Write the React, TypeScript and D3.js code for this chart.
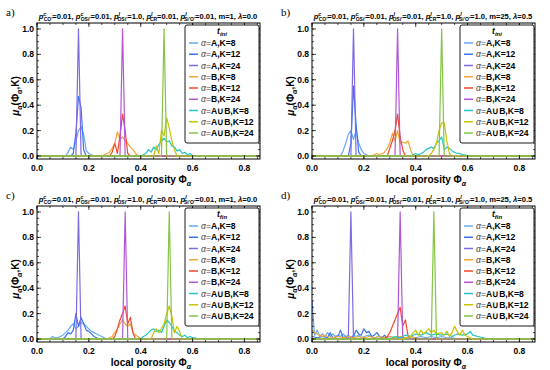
import React from 'react';
import * as d3 from 'd3';

type Pt = [number, number];

const seriesNames = ['A,K=8', 'A,K=12', 'A,K=24', 'B,K=8', 'B,K=12', 'B,K=24', 'A∪B,K=8', 'A∪B,K=12', 'A∪B,K=24'];
const seriesColors = ['#6aa8f5', '#3b74f0', '#7d6be6', '#f5a535', '#f2472c', '#b455d6', '#22c4c4', '#c9c300', '#84c446'];

const xTicks = [0, 0.2, 0.4, 0.6, 0.8];
const yTicks = [0, 0.2, 0.4, 0.6, 0.8, 1.0];

// title parameters: [superscript, subscript, value]
const paramsM1 = [['c', "CO'", '0.01'], ['c', "OSi'", '0.01'], ['l', "OSi'", '1.0'], ['l', 'CR', '0.01'], ['l', "Si'O'", '0.01']];
const tailM1 = 'm=1, λ=0.0';
const paramsM25 = [['c', "CO'", '0.01'], ['c', "OSi'", '0.01'], ['l', "OSi'", '0.01'], ['l', 'CR', '1.0'], ['l', "Si'O'", '1.0']];
const tailM25 = 'm=25, λ=0.5';

// a) t_ini, m=1
const iniM1: Pt[][] = [
  [[0, 0], [0.11, 0], [0.12, 0.03], [0.13, 0.07], [0.14, 0.05], [0.15, 0.12], [0.16, 0.2], [0.17, 0.23], [0.18, 0.17], [0.19, 0.04], [0.2, 0.02], [0.21, 0.01], [0.22, 0], [0.86, 0]],
  [[0, 0], [0.13, 0], [0.14, 0.02], [0.15, 0.18], [0.16, 0.47], [0.17, 0.38], [0.18, 0.05], [0.19, 0], [0.86, 0]],
  [[0, 0], [0.15, 0], [0.16, 1], [0.17, 0], [0.86, 0]],
  [[0, 0], [0.25, 0], [0.26, 0.01], [0.27, 0.02], [0.28, 0.03], [0.29, 0.06], [0.3, 0.1], [0.31, 0.19], [0.32, 0.13], [0.33, 0.15], [0.34, 0.12], [0.35, 0.1], [0.36, 0.07], [0.37, 0.05], [0.38, 0.02], [0.39, 0], [0.86, 0]],
  [[0, 0], [0.28, 0], [0.29, 0.03], [0.3, 0.1], [0.31, 0.02], [0.32, 0.16], [0.33, 0.33], [0.34, 0.2], [0.35, 0.02], [0.36, 0], [0.86, 0]],
  [[0, 0], [0.32, 0], [0.33, 1], [0.34, 0], [0.86, 0]],
  [[0, 0], [0.4, 0], [0.41, 0.01], [0.42, 0.02], [0.43, 0.05], [0.44, 0.03], [0.45, 0.07], [0.46, 0.05], [0.47, 0.09], [0.48, 0.12], [0.49, 0.14], [0.5, 0.11], [0.51, 0.12], [0.52, 0.08], [0.53, 0.07], [0.54, 0.04], [0.55, 0.05], [0.56, 0.02], [0.57, 0.03], [0.58, 0.01], [0.59, 0.02], [0.6, 0], [0.86, 0]],
  [[0, 0], [0.45, 0], [0.46, 0.08], [0.47, 0.02], [0.48, 0.2], [0.49, 0.16], [0.5, 0.3], [0.51, 0.22], [0.52, 0.12], [0.53, 0.05], [0.54, 0], [0.86, 0]],
  [[0, 0], [0.48, 0], [0.49, 1], [0.5, 0], [0.86, 0]],
];

// b) t_ini, m=25
const iniM25: Pt[][] = [
  [[0, 0], [0.11, 0], [0.12, 0.04], [0.13, 0.1], [0.14, 0.17], [0.15, 0.2], [0.16, 0.13], [0.17, 0.2], [0.18, 0.1], [0.19, 0.05], [0.2, 0.02], [0.21, 0.01], [0.22, 0], [0.86, 0]],
  [[0, 0], [0.14, 0], [0.15, 0.1], [0.16, 0.55], [0.17, 0.25], [0.18, 0.03], [0.19, 0], [0.86, 0]],
  [[0, 0], [0.15, 0], [0.16, 1], [0.17, 0], [0.86, 0]],
  [[0, 0], [0.23, 0], [0.24, 0.01], [0.25, 0.02], [0.26, 0.01], [0.27, 0.02], [0.28, 0.03], [0.29, 0.06], [0.3, 0.1], [0.31, 0.18], [0.32, 0.12], [0.33, 0.2], [0.34, 0.1], [0.35, 0.11], [0.36, 0.1], [0.37, 0.12], [0.38, 0.05], [0.39, 0], [0.86, 0]],
  [[0, 0], [0.29, 0], [0.3, 0.06], [0.31, 0.12], [0.32, 0.2], [0.33, 0.33], [0.34, 0.15], [0.35, 0.05], [0.36, 0], [0.86, 0]],
  [[0, 0], [0.32, 0], [0.33, 1], [0.34, 0], [0.86, 0]],
  [[0, 0], [0.38, 0], [0.39, 0.01], [0.4, 0.02], [0.41, 0.01], [0.42, 0.02], [0.43, 0.03], [0.44, 0.05], [0.45, 0.06], [0.46, 0.07], [0.47, 0.06], [0.48, 0.1], [0.49, 0.12], [0.5, 0.15], [0.51, 0.05], [0.52, 0.07], [0.53, 0.06], [0.54, 0.04], [0.55, 0.03], [0.56, 0.02], [0.57, 0.02], [0.58, 0.01], [0.59, 0.01], [0.6, 0], [0.86, 0]],
  [[0, 0], [0.45, 0], [0.46, 0.02], [0.47, 0.05], [0.48, 0.1], [0.49, 0.2], [0.5, 0.26], [0.51, 0.26], [0.52, 0.12], [0.53, 0.02], [0.54, 0], [0.86, 0]],
  [[0, 0], [0.49, 0], [0.5, 1], [0.51, 0], [0.86, 0]],
];

// c) t_fin, m=1
const finM1: Pt[][] = [
  [[0, 0], [0.05, 0], [0.06, 0.02], [0.07, 0.01], [0.08, 0.01], [0.09, 0.02], [0.1, 0.03], [0.11, 0.05], [0.12, 0.07], [0.13, 0.1], [0.14, 0.12], [0.15, 0.08], [0.16, 0.1], [0.17, 0.13], [0.18, 0.12], [0.19, 0.1], [0.2, 0.08], [0.21, 0.06], [0.22, 0.05], [0.23, 0.04], [0.24, 0.03], [0.25, 0.02], [0.26, 0.01], [0.27, 0], [0.86, 0]],
  [[0, 0], [0.1, 0], [0.11, 0.02], [0.12, 0.05], [0.13, 0.04], [0.14, 0.07], [0.15, 0.2], [0.16, 0.1], [0.17, 0.17], [0.18, 0.12], [0.19, 0.07], [0.2, 0.06], [0.21, 0.04], [0.22, 0.02], [0.23, 0.01], [0.24, 0], [0.86, 0]],
  [[0, 0], [0.15, 0], [0.16, 1], [0.17, 0], [0.86, 0]],
  [[0, 0], [0.27, 0], [0.28, 0.01], [0.29, 0.02], [0.3, 0.05], [0.31, 0.08], [0.32, 0.12], [0.33, 0.15], [0.34, 0.12], [0.35, 0.1], [0.36, 0.12], [0.37, 0.05], [0.38, 0.03], [0.39, 0.02], [0.4, 0], [0.86, 0]],
  [[0, 0], [0.29, 0], [0.3, 0.02], [0.31, 0.08], [0.32, 0.15], [0.33, 0.2], [0.34, 0.26], [0.35, 0.12], [0.36, 0.17], [0.37, 0.05], [0.38, 0], [0.86, 0]],
  [[0, 0], [0.33, 0], [0.34, 1], [0.35, 0], [0.86, 0]],
  [[0, 0], [0.4, 0], [0.41, 0.02], [0.42, 0.03], [0.43, 0.05], [0.44, 0.07], [0.45, 0.08], [0.46, 0.06], [0.47, 0.07], [0.48, 0.05], [0.49, 0.1], [0.5, 0.15], [0.51, 0.13], [0.52, 0.1], [0.53, 0.06], [0.54, 0.05], [0.55, 0.03], [0.56, 0.02], [0.57, 0.03], [0.58, 0.01], [0.59, 0.02], [0.6, 0.01], [0.61, 0.01], [0.62, 0], [0.86, 0]],
  [[0, 0], [0.44, 0], [0.45, 0.05], [0.46, 0.08], [0.47, 0.05], [0.48, 0.08], [0.49, 0.12], [0.5, 0.2], [0.51, 0.26], [0.52, 0.18], [0.53, 0.05], [0.54, 0.1], [0.55, 0.06], [0.56, 0], [0.86, 0]],
  [[0, 0], [0.5, 0], [0.51, 1], [0.52, 0], [0.86, 0]],
];

// d) t_fin, m=25
const finM25: Pt[][] = [
  [[0, 0.3], [0.01, 0.03], [0.02, 0.07], [0.03, 0.02], [0.04, 0.04], [0.05, 0.02], [0.06, 0.05], [0.07, 0.02], [0.08, 0.04], [0.09, 0.02], [0.1, 0.03], [0.11, 0.02], [0.12, 0.04], [0.13, 0.02], [0.14, 0.03], [0.15, 0.01], [0.16, 0.03], [0.17, 0.02], [0.18, 0.03], [0.19, 0.01], [0.2, 0.02], [0.22, 0.03], [0.24, 0.01], [0.26, 0.02], [0.28, 0.01], [0.3, 0.02], [0.32, 0.01], [0.34, 0.02], [0.36, 0.01], [0.38, 0.02], [0.4, 0.01], [0.42, 0.02], [0.44, 0.01], [0.46, 0.02], [0.48, 0.01], [0.5, 0.02], [0.52, 0.01], [0.54, 0.01], [0.56, 0], [0.86, 0]],
  [[0, 0.02], [0.02, 0.01], [0.04, 0.02], [0.06, 0.01], [0.07, 0.05], [0.08, 0.01], [0.1, 0.02], [0.11, 0.07], [0.12, 0.01], [0.13, 0.02], [0.14, 0], [0.16, 0.02], [0.17, 0.07], [0.18, 0.04], [0.19, 0.03], [0.2, 0.08], [0.21, 0.05], [0.22, 0.06], [0.23, 0.02], [0.24, 0.03], [0.25, 0.05], [0.26, 0.02], [0.27, 0.01], [0.28, 0.03], [0.29, 0], [0.86, 0]],
  [[0, 0], [0.14, 0], [0.15, 1], [0.16, 0], [0.86, 0]],
  [[0, 0.07], [0.01, 0.05], [0.02, 0.04], [0.03, 0.03], [0.04, 0.02], [0.05, 0.03], [0.06, 0.02], [0.08, 0.01], [0.1, 0.02], [0.12, 0.01], [0.14, 0.02], [0.16, 0.01], [0.18, 0.02], [0.2, 0.01], [0.22, 0.02], [0.24, 0.01], [0.26, 0.02], [0.28, 0.01], [0.3, 0.02], [0.32, 0.01], [0.34, 0.02], [0.36, 0.01], [0.38, 0.02], [0.4, 0.01], [0.42, 0], [0.86, 0]],
  [[0, 0], [0.28, 0], [0.29, 0.02], [0.3, 0.05], [0.31, 0.1], [0.32, 0.15], [0.33, 0.2], [0.34, 0.25], [0.35, 0.1], [0.36, 0.15], [0.37, 0.03], [0.38, 0], [0.86, 0]],
  [[0, 0], [0.33, 0], [0.34, 1], [0.35, 0], [0.86, 0]],
  [[0, 0], [0.3, 0], [0.32, 0.02], [0.34, 0.01], [0.36, 0.03], [0.38, 0.02], [0.4, 0.04], [0.42, 0.03], [0.44, 0.05], [0.46, 0.03], [0.48, 0.04], [0.5, 0.03], [0.52, 0.04], [0.54, 0.02], [0.56, 0.04], [0.58, 0.03], [0.6, 0.04], [0.61, 0.06], [0.62, 0.03], [0.64, 0.02], [0.66, 0.01], [0.68, 0], [0.86, 0]],
  [[0, 0], [0.36, 0], [0.38, 0.02], [0.39, 0.05], [0.4, 0.07], [0.41, 0.03], [0.42, 0.07], [0.43, 0.04], [0.44, 0.06], [0.45, 0.08], [0.46, 0.05], [0.47, 0.07], [0.48, 0.04], [0.5, 0.05], [0.51, 0.03], [0.52, 0.06], [0.53, 0.02], [0.54, 0.05], [0.55, 0.1], [0.56, 0.06], [0.57, 0.03], [0.58, 0.07], [0.59, 0.03], [0.6, 0.02], [0.62, 0], [0.86, 0]],
  [[0, 0], [0.46, 0], [0.47, 1], [0.48, 0], [0.86, 0]],
];

const SANS = '"Liberation Sans", Arial, sans-serif';

function Title({ params, tail }: { params: string[][]; tail: string }) {
  return (
    <text x={148} y={19} textAnchor="middle" fontFamily={SANS} fontSize={7.6} fontWeight="bold">
      {params.map((p, i) => (
        <React.Fragment key={i}>
          <tspan fontStyle="italic">p</tspan>
          <tspan fontSize={5.4} dy={-3.2} fontStyle="italic">{p[0]}</tspan>
          <tspan fontSize={5} dx={-2.7} dy={4.8}>{p[1]}</tspan>
          <tspan dy={-1.6}>{`=${p[2]}, `}</tspan>
        </React.Fragment>
      ))}
      <tspan>{tail.split('λ')[0]}</tspan>
      <tspan fontStyle="italic">λ</tspan>
      <tspan>{tail.split('λ')[1]}</tspan>
    </text>
  );
}

function Panel({ ox, oy, tag, params, tail, phase, series }: {
  ox: number; oy: number; tag: string; params: string[][]; tail: string; phase: string; series: Pt[][];
}) {
  const left = 37, right = 260, top = 23, bottom = 159;
  const x = d3.scaleLinear().domain([0, 0.86]).range([left, right]);
  const y = d3.scaleLinear().domain([-0.0236, 1.047]).range([bottom, top]);
  const line = d3.line<Pt>().x(d => x(d[0])).y(d => y(d[1]));
  const clipId = `clip-${tag}`;
  const xMinor = d3.range(0, 0.86, 0.05);
  const yMinor = d3.range(0, 1.05, 0.05);
  const fmt = d3.format('.1f');
  const lg = { x0: 185, x1: 259, y0: 25, y1: 143 };

  return (
    <g transform={`translate(${ox},${oy})`}>
      <defs>
        <clipPath id={clipId}>
          <rect x={left} y={top} width={right - left} height={bottom - top} />
        </clipPath>
      </defs>
      <text x={6} y={16} fontFamily='"Liberation Serif", serif' fontSize={11}>{tag})</text>
      <Title params={params} tail={tail} />
      <g clipPath={`url(#${clipId})`}>
        {series.map((s, i) => (
          <path key={i} d={line(s) || ''} fill="none" stroke={seriesColors[i]} strokeWidth={1.2} strokeLinejoin="round" />
        ))}
      </g>
      <rect x={left} y={top} width={right - left} height={bottom - top} fill="none" stroke="#000" strokeWidth={1} />
      {/* ticks */}
      <g stroke="#000" strokeWidth={0.7}>
        {xMinor.map((t, i) => (
          <React.Fragment key={`xm${i}`}>
            <line x1={x(t)} x2={x(t)} y1={bottom} y2={bottom - 2} />
            <line x1={x(t)} x2={x(t)} y1={top} y2={top + 2} />
          </React.Fragment>
        ))}
        {xTicks.map((t, i) => (
          <React.Fragment key={`xt${i}`}>
            <line x1={x(t)} x2={x(t)} y1={bottom} y2={bottom - 4} />
            <line x1={x(t)} x2={x(t)} y1={top} y2={top + 4} />
          </React.Fragment>
        ))}
        {yMinor.map((t, i) => (
          <React.Fragment key={`ym${i}`}>
            <line x1={left} x2={left + 2} y1={y(t)} y2={y(t)} />
            <line x1={right} x2={right - 2} y1={y(t)} y2={y(t)} />
          </React.Fragment>
        ))}
        {yTicks.map((t, i) => (
          <React.Fragment key={`yt${i}`}>
            <line x1={left} x2={left + 4} y1={y(t)} y2={y(t)} />
            <line x1={right} x2={right - 4} y1={y(t)} y2={y(t)} />
          </React.Fragment>
        ))}
      </g>
      <g fontFamily={SANS} fontSize={8.5} fontWeight="bold">
        {xTicks.map((t, i) => (
          <text key={i} x={x(t)} y={171} textAnchor="middle">{fmt(t)}</text>
        ))}
        {yTicks.map((t, i) => (
          <text key={i} x={left - 3} y={y(t) + 3} textAnchor="end">{fmt(t)}</text>
        ))}
      </g>
      <text x={151} y={183} textAnchor="middle" fontFamily={SANS} fontSize={10} fontWeight="bold">
        local porosity Φ<tspan fontSize={7} dy={2.5} fontStyle="italic">α</tspan>
      </text>
      <text transform="translate(19,96) rotate(-90)" textAnchor="middle" fontFamily={SANS} fontSize={10} fontWeight="bold">
        <tspan fontStyle="italic">μ</tspan>
        <tspan fontSize={7} dy={2.5} fontStyle="italic">α</tspan>
        <tspan dy={-2.5}>(Φ</tspan>
        <tspan fontSize={7} dy={2.5} fontStyle="italic">α</tspan>
        <tspan dy={-2.5}>,K)</tspan>
      </text>
      {/* legend */}
      <rect x={lg.x0} y={lg.y0} width={lg.x1 - lg.x0} height={lg.y1 - lg.y0} rx={2} fill="#fff" stroke="#000" strokeWidth={0.9} />
      <text x={222} y={34} textAnchor="middle" fontFamily={SANS} fontSize={8.5} fontWeight="bold">
        <tspan fontStyle="italic">t</tspan>
        <tspan fontSize={6} dy={2} fontStyle="italic">{phase}</tspan>
      </text>
      {seriesNames.map((n, i) => {
        const cy = 43 + i * 11.25;
        return (
          <g key={i}>
            <line x1={189} x2={198} y1={cy} y2={cy} stroke={seriesColors[i]} strokeWidth={1.5} />
            <text x={201} y={cy + 3} fontFamily={SANS} fontSize={8.6}>
              <tspan fontStyle="italic" fill="#444">α</tspan>
              <tspan fill="#444">=</tspan>
              <tspan fontWeight="bold">{n}</tspan>
            </text>
          </g>
        );
      })}
    </g>
  );
}

export default function App() {
  return (
    <svg width={550} height={370} style={{ position: 'absolute', left: 0, top: 0, background: '#fff' }}>
      <Panel ox={0} oy={0} tag="a" params={paramsM1} tail={tailM1} phase="ini" series={iniM1} />
      <Panel ox={275} oy={0} tag="b" params={paramsM25} tail={tailM25} phase="ini" series={iniM25} />
      <Panel ox={0} oy={183} tag="c" params={paramsM1} tail={tailM1} phase="fin" series={finM1} />
      <Panel ox={275} oy={183} tag="d" params={paramsM25} tail={tailM25} phase="fin" series={finM25} />
    </svg>
  );
}
